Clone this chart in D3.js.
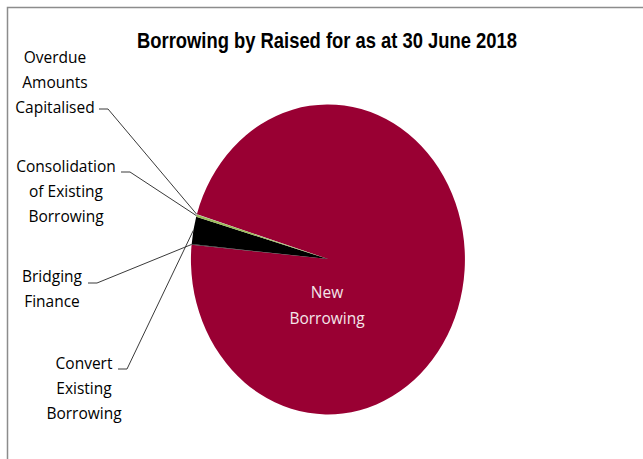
<!DOCTYPE html>
<html>
<head>
<meta charset="utf-8">
<script src="https://cdn.jsdelivr.net/npm/d3@7"></script>
<style>
  html, body { margin: 0; padding: 0; background: #fff; }
  svg { display: block; }
</style>
</head>
<body>
<svg id="chart" width="643" height="459"></svg>
<script>
// ---- data ----
const categories = ["New Borrowing", "Bridging Finance", "Convert Existing Borrowing", "Consolidation of Existing Borrowing", "Overdue Amounts Capitalised"];
const values = [96.80, 0.06, 2.86, 0.24, 0.04];
const colors = ["#990033", "#1f1f1f", "#000000", "#9bbb59", "#c0c0c0"];
const titleText = "Borrowing by Raised for as at 30  June 2018";
const labelLines = [
  ["New", "Borrowing"],
  ["Bridging", "Finance"],
  ["Convert", "Existing", "Borrowing"],
  ["Consolidation", "of Existing", "Borrowing"],
  ["Overdue", "Amounts", "Capitalised"]
];

// ---- layout ----
const W = 643, H = 459;
const cx = 328, cy = 259, rx = 137, ry = 155;
const startAngle = -73.2 * Math.PI / 180;
const labelLayout = [
  null,
  { x: 52, y: 277, lx: 88, ly: 283 },
  { x: 84, y: 364, lx: 118, ly: 369 },
  { x: 66, y: 167, lx: 121, ly: 172 },
  { x: 55, y: 58, lx: 99, ly: 109 }
];
const lineH = 25;

const svg = d3.select("#chart");

// frame
svg.append("rect")
  .attr("x", 7.5).attr("y", 7.5)
  .attr("width", 700).attr("height", 500)
  .attr("fill", "none").attr("stroke", "#8c8c8c").attr("stroke-width", 1.5);

// title
svg.append("text")
  .attr("x", 327).attr("y", 48)
  .attr("text-anchor", "middle")
  .attr("font-family", "'Liberation Sans Narrow', 'Arial Narrow', 'Liberation Sans', sans-serif")
  .attr("font-weight", "bold")
  .attr("font-size", 22)
  .attr("textLength", 380)
  .attr("lengthAdjust", "spacingAndGlyphs")
  .attr("fill", "#000")
  .text(titleText);

const pie = d3.pie().sort(null).value(d => d)
  .startAngle(startAngle).endAngle(startAngle + 2 * Math.PI);
const arcs = pie(values);
const arc = d3.arc().innerRadius(0).outerRadius(1);

const g = svg.append("g")
  .attr("transform", `translate(${cx},${cy}) scale(${rx},${ry})`);
g.selectAll("path").data(arcs).enter().append("path")
  .attr("d", arc)
  .attr("fill", (d, i) => colors[i]);

const rim = a => [cx + rx * Math.sin(a), cy - ry * Math.cos(a)];

const font = "'Open Sans', Carlito, Lato, sans-serif";

arcs.forEach((d, i) => {
  const L = labelLayout[i];
  if (!L) return;
  const mid = (d.startAngle + d.endAngle) / 2;
  const p = rim(mid);
  svg.append("path")
    .attr("d", `M${L.lx},${L.ly}L${L.lx + 9},${L.ly}L${p[0]},${p[1]}`)
    .attr("fill", "none").attr("stroke", "#3a3a3a").attr("stroke-width", 1);
  const t = svg.append("text")
    .attr("text-anchor", "middle")
    .attr("font-family", font)
    .attr("font-size", 15.5)
    .attr("fill", "#000");
  labelLines[i].forEach((ln, k) => {
    t.append("tspan").attr("x", L.x).attr("y", L.y + k * lineH)
      .attr("dy", "0.35em").text(ln);
  });
});

const nt = svg.append("text")
  .attr("text-anchor", "middle")
  .attr("font-family", font)
  .attr("font-size", 15.5)
  .attr("fill", "#f4e6ea");
labelLines[0].forEach((ln, k) => {
  nt.append("tspan").attr("x", 327).attr("y", 293 + k * 26).attr("dy", "0.35em").text(ln);
});
</script>
</body>
</html>
